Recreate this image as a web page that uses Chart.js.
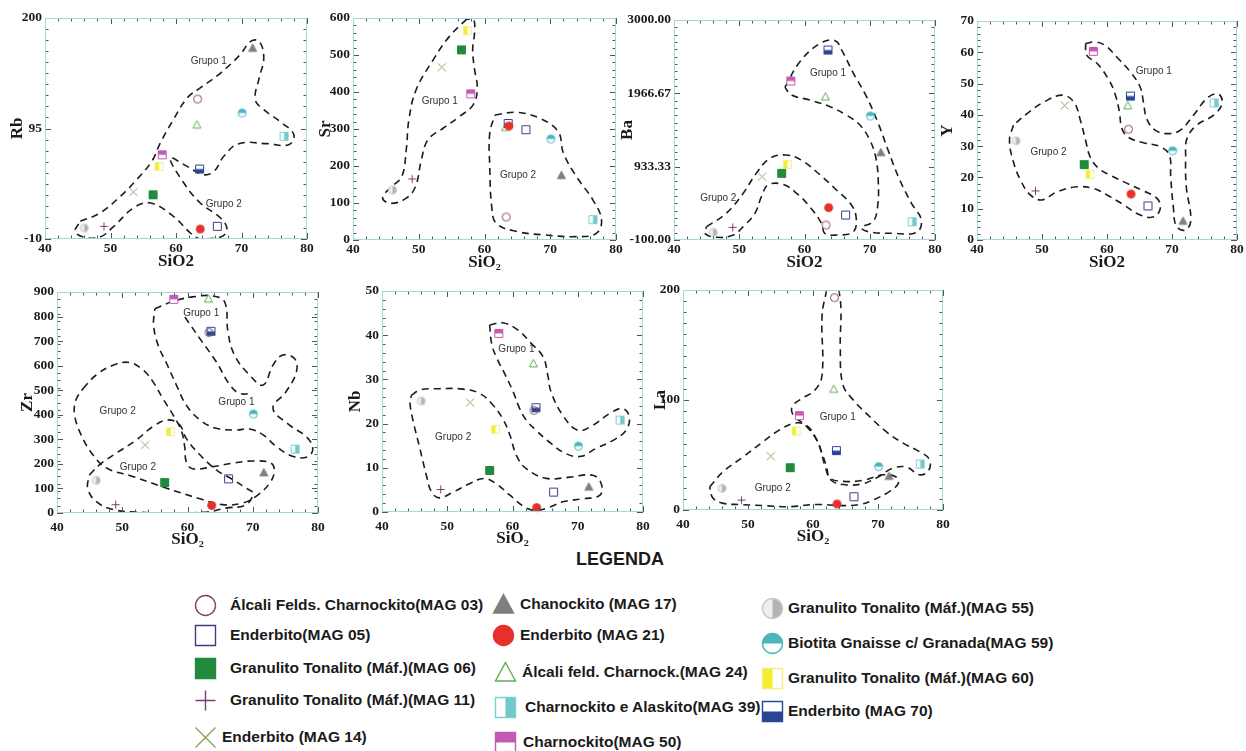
<!DOCTYPE html>
<html>
<head>
<meta charset="utf-8">
<title>Diagramas de Harker - SiO2</title>
<script src="https://cdn.jsdelivr.net/npm/chart.js@4.4.0/dist/chart.umd.min.js"></script>
<style>
    body { margin: 0; background: #fff; width: 1246px; height: 751px; position: relative; overflow: hidden;
           font-family: "Liberation Sans", Arial, sans-serif; color: #1a1a1a; }
    canvas.plot { position: absolute; }
    .leg-title { position: absolute; left: 560px; top: 549px; width: 120px; text-align: center;
                 font-weight: bold; font-size: 18px; }
    .leg-item { position: absolute; height: 22px; line-height: 22px; white-space: nowrap;
                font-weight: bold; font-size: 15.5px; }
    .leg-mark { position: absolute; }
</style>
</head>
<body>
<div class="leg-title">LEGENDA</div>
<script>
// ---- amostras ----
const samples = ['MAG 03', 'MAG 05', 'MAG 06', 'MAG 11', 'MAG 14', 'MAG 17', 'MAG 21',
                 'MAG 24', 'MAG 39', 'MAG 50', 'MAG 55', 'MAG 59', 'MAG 60', 'MAG 70'];
const legendNames = [
    'Álcali Felds. Charnockito(MAG 03)', 'Enderbito(MAG 05)', 'Granulito Tonalito (Máf.)(MAG 06)',
    'Granulito Tonalito (Máf.)(MAG 11)', 'Enderbito (MAG 14)', 'Chanockito (MAG 17)',
    'Enderbito (MAG 21)', 'Álcali feld. Charnock.(MAG 24)', 'Charnockito e Alaskito(MAG 39)',
    'Charnockito(MAG 50)', 'Granulito Tonalito (Máf.)(MAG 55)', 'Biotita Gnaisse c/ Granada(MAG 59)',
    'Granulito Tonalito (Máf.)(MAG 60)', 'Enderbito (MAG 70)'
];

// ---- valores (mesma ordem das amostras) ----
const sio2 = [63.3, 66.3, 56.5, 49.0, 53.5, 71.7, 63.7, 63.2, 76.5, 57.9, 46.0, 70.1, 57.4, 63.6];
const rb   = [123, 2, 32, 2, 34.7, 171.5, -0.5, 98.6, 87.6, 70, 0.5, 109.7, 59, 56.5];
const sr   = [62, 298, 514, 165, 467, 175, 308, 305, 55, 395, 135, 273, 566, 315];
const ba   = [111, 252, 839, 78, 792, 1135, 356, 1920, 158, 2140, 8, 1647, 966, 2577];
const yv   = [35.4, 10.9, 24.1, 15.7, 43, 6.1, 14.7, 43, 43.8, 60.3, 31.7, 28.5, 21, 46];
const zr   = [735, 139, 124, 34, 277, 165, 31, 873, 260, 870, 133, 403, 331, 740];
const nb   = [23, 4.5, 9.4, 5.1, 24.8, 5.7, 1, 33.6, 20.8, 40.4, 25.1, 14.9, 18.7, 23.6];
const la   = [193, 12.1, 38.5, 9, 49, 30.9, 5.5, 110, 41.8, 85.8, 19.7, 39.4, 71.8, 54];

// ---- ticks ----
const xTicks  = [40, 50, 60, 70, 80];
const rbTicks = [-10, 95, 200];
const srTicks = [0, 100, 200, 300, 400, 500, 600];
const baTicks = [-100, 933.33, 1966.67, 3000];
const yTicks  = [0, 10, 20, 30, 40, 50, 60, 70];
const zrTicks = [0, 100, 200, 300, 400, 500, 600, 700, 800, 900];
const nbTicks = [0, 10, 20, 30, 40, 50];
const laTicks = [0, 100, 200];

// ---- contornos dos grupos [SiO2, elemento] ----
const rbGrupos = [[45.4, 6.8], [48.4, 14.7], [51.5, 30.5], [54.0, 46.4], [56.3, 63.8], [57.6, 81.2], [59.6, 103.4],
    [61.7, 124], [63.7, 133.5], [66.8, 147.7], [69.8, 165.2], [71.4, 177.8], [72.7, 177.8], [73.4, 162],
    [72.7, 143], [72.1, 122.4], [73.4, 112.9], [76.2, 100.2], [78.0, 89.1], [77.2, 79.6], [73.9, 80.6],
    [69.6, 80.6], [67.3, 68.6], [65.8, 54.3], [64.2, 51.1], [61.7, 59], [59.1, 67], [61.2, 43.2],
    [63.7, 24.2], [66.8, 10], [67.8, -1.1], [66.8, -8.1], [63.7, -10], [62.2, -4.3], [59.6, 11.5],
    [56.1, 24.2], [53.5, 19.5], [50.5, 2], [48.4, -8.1], [45.9, -8.1], [44.6, -2.7], [45.4, 6.8]];
const srGrupo1 = [[57.3, 597], [54.7, 551], [52.2, 487], [49.6, 406], [48.5, 325], [48.1, 244], [47.4, 171],
    [45.6, 140], [44.5, 113], [45.8, 99], [48.1, 113], [49.5, 144], [50.4, 217], [51.4, 271], [53.7, 302],
    [56.2, 334], [58.3, 366], [58.9, 411], [58.5, 460], [58.2, 514], [58.5, 564], [58.3, 597], [57.3, 597]];
const srGrupo2 = [[61.6, 338], [64.9, 345], [68.4, 329], [71.2, 293], [72.0, 235], [74.0, 171], [76.5, 108],
    [77.8, 54], [77.0, 18], [74.0, 9], [68.9, 14], [64.9, 23], [61.8, 45], [61.1, 90], [60.8, 199],
    [60.8, 289], [61.6, 338]];
const baGrupo1 = [[57.0, 2051], [59.3, 2413], [62.4, 2671], [64.7, 2709], [65.7, 2577], [67.5, 2249],
    [69.5, 1920], [71.3, 1544], [72.8, 1168], [74.6, 745], [76.4, 417], [77.9, 182], [77.2, 8], [73.6, -6],
    [69.8, 17], [68.7, 78], [70.5, 158], [71.2, 370], [71.3, 745], [70.9, 1074], [70.0, 1309], [68.5, 1520],
    [66.4, 1661], [63.9, 1779], [60.8, 1873], [58.0, 1943], [57.0, 2051]];
const baGrupo2 = [[45.0, 88], [48.0, 276], [50.6, 558], [52.6, 839], [54.7, 1051], [57.2, 1098], [59.5, 1027],
    [62.4, 816], [64.9, 605], [67.0, 417], [67.9, 229], [67.5, 17], [64.9, -30], [63.1, -6], [62.6, 135],
    [60.8, 370], [58.8, 558], [56.7, 684], [54.4, 675], [53.4, 511], [52.4, 276], [50.6, 88], [49.1, -30],
    [46.5, -62], [44.7, -6], [45.0, 88]];
const yGrupo1 = [[56.7, 62.8], [58.2, 63.3], [59.7, 62.2], [61.5, 58.5], [63.6, 53.7], [65.1, 48.9],
    [65.6, 44.1], [66.1, 38.8], [67.4, 35.1], [69.5, 34.0], [71.3, 35.1], [73.3, 39.9], [75.6, 45.7],
    [77.2, 46.6], [77.7, 43.6], [76.4, 39.9], [73.8, 36.7], [72.3, 32.4], [72.1, 26.6], [72.2, 17.0],
    [72.9, 6.4], [72.1, 3.2], [70.7, 4.3], [70.2, 10.6], [69.8, 20.2], [69.6, 27.1], [68.2, 29.8],
    [65.6, 31.1], [63.3, 32.8], [62.3, 35.6], [61.9, 41.0], [61.3, 46.3], [60.3, 51.1], [58.5, 56.4],
    [56.9, 59.0], [56.7, 62.8]];
const yGrupo2 = [[45.6, 36.7], [45.0, 31.9], [45.6, 25.0], [46.7, 19.1], [48.2, 14.4], [50.0, 12.8],
    [52.3, 15.4], [55.4, 17.0], [57.9, 16.5], [60.0, 14.4], [62.6, 11.2], [65.1, 8.0], [67.2, 7.4],
    [68.2, 10.1], [67.7, 13.3], [65.6, 15.7], [63.1, 18.1], [60.5, 20.7], [58.7, 22.9], [57.4, 26.6],
    [56.7, 31.9], [55.9, 38.3], [54.9, 44.1], [53.1, 46.3], [50.3, 44.1], [47.7, 40.4], [45.6, 36.7]];
const zrGrupo1 = [[55.0, 832], [57.8, 862], [60.8, 880], [63.9, 884], [65.7, 859], [66.2, 737], [67.2, 643],
    [69.5, 562], [71.6, 521], [73.1, 602], [74.6, 643], [76.4, 629], [76.7, 575], [75.1, 494], [73.1, 426],
    [75.6, 359], [78.2, 311], [79.2, 264], [78.5, 230], [76.2, 230], [73.6, 271], [71.6, 318], [69.5, 342],
    [67.5, 338], [64.4, 345], [61.9, 379], [59.8, 440], [58.3, 521], [56.8, 609], [55.5, 683], [54.8, 765],
    [55.0, 832]];
const zrGrupo1b = [[59.6, 798], [61.9, 710], [64.4, 616], [66.5, 521], [68.0, 487], [70.0, 487]];
const zrGrupo2 = [[44.0, 507], [46.0, 562], [48.6, 602], [51.1, 613], [53.2, 582], [54.7, 535], [56.2, 467],
    [57.8, 399], [59.1, 332], [59.6, 264], [59.8, 210], [60.8, 180], [63.9, 189], [67.0, 203], [70.0, 212],
    [72.8, 203], [73.3, 169], [72.6, 122], [70.8, 74], [68.5, 41], [65.4, 34], [61.9, 58], [56.8, 101],
    [51.6, 149], [47.6, 183], [45.5, 237], [43.7, 318], [42.7, 399], [42.9, 460], [44.0, 507]];
const zrGrupo2b = [[45.0, 156], [46.5, 196], [49.1, 244], [52.2, 298], [54.7, 352], [57.0, 379], [58.8, 359],
    [59.8, 304], [61.9, 237], [64.4, 176], [67.0, 135], [69.0, 101], [70.0, 81], [69.0, 34], [65.9, 20],
    [62.9, 4], [57.8, 0], [52.7, 3], [48.6, 14], [46.0, 47], [44.7, 101], [45.0, 156]];
const nbGrupo1 = [[56.5, 42.3], [58.5, 42.8], [60.8, 41.2], [62.9, 38.1], [64.7, 35.1], [65.4, 31.0],
    [65.9, 27.2], [67.7, 21.9], [70.0, 18.5], [72.3, 19.6], [74.9, 22.3], [76.9, 23.4], [77.9, 21.5],
    [77.4, 18.5], [75.4, 16.2], [72.8, 14.4], [70.5, 12.6], [68.2, 13.2], [65.9, 15.5], [63.6, 18.5],
    [62.1, 20.8], [61.1, 23.4], [60.1, 27.2], [58.8, 31.3], [57.5, 35.1], [56.8, 38.1], [56.5, 42.3]];
const nbGrupo2 = [[44.5, 26.4], [45.8, 27.6], [48.8, 27.9], [52.4, 27.8], [55.0, 26.8], [57.0, 24.2],
    [58.5, 21.1], [59.6, 17.4], [60.6, 12.8], [62.1, 9.8], [65.2, 7.6], [68.8, 7.9], [72.3, 8.3],
    [73.6, 6.4], [73.4, 3.8], [70.8, 3.0], [67.7, 2.3], [65.7, 1.1], [63.6, 0.4], [61.9, 1.1], [59.6, 3.8],
    [57.5, 6.4], [55.7, 7.6], [53.4, 6.4], [50.9, 4.5], [48.8, 3.2], [47.6, 4.5], [46.8, 8.3], [45.8, 14.4],
    [44.8, 20.4], [44.3, 24.5], [44.5, 26.4]];
const laGrupo1 = [[62.1, 200], [61.4, 177], [61.4, 123], [60.3, 109], [58.2, 101], [56.8, 94], [57.0, 86],
    [59.0, 76], [60.8, 61], [61.8, 41], [62.8, 27], [64.9, 23], [67.7, 24], [70.0, 30], [72.3, 38],
    [74.4, 39], [76.4, 32], [77.8, 36], [77.9, 46], [76.4, 53], [73.8, 61], [71.3, 71], [68.7, 85],
    [66.2, 100], [64.6, 114], [64.2, 147], [64.3, 183], [64.0, 200]];
const laGrupo2 = [[44.1, 21], [46.2, 35], [49.2, 48], [52.3, 62], [54.9, 73], [57.2, 79], [59.0, 77],
    [60.3, 67], [61.3, 53], [62.1, 39], [62.6, 29], [64.6, 26], [67.7, 27], [70.8, 32], [72.8, 30],
    [73.1, 24], [71.8, 17], [69.2, 9], [67.2, 5], [64.6, 4], [60.5, 5], [56.4, 3], [52.3, 4], [48.7, 5],
    [46.2, 6], [44.6, 11], [44.1, 21]];

// ---- estilos dos simbolos ----
const markerStyles = [
    { shape: 'circle', stroke: '#8a4a55' },
    { shape: 'square', stroke: '#3d3c82' },
    { shape: 'square', stroke: '#218a3d', fill: '#218a3d' },
    { shape: 'plus', stroke: '#7a3f6e' },
    { shape: 'cross', stroke: '#9a9a5c' },
    { shape: 'triangle', stroke: '#7f7f7f', fill: '#7f7f7f' },
    { shape: 'circle', stroke: '#e5302b', fill: '#e5302b' },
    { shape: 'triangle', stroke: '#5fae4c' },
    { shape: 'square', stroke: '#7ccfd2', fill: '#72c8cb', half: 'right' },
    { shape: 'square', stroke: '#c45ab4', fill: '#c45ab4', half: 'top' },
    { shape: 'circle', stroke: '#c9c9c9', fill: '#b3b3b3', half: 'right', base: '#eeeeee' },
    { shape: 'circle', stroke: '#4bb6bd', fill: '#4bb6bd', half: 'top' },
    { shape: 'square', stroke: '#f3ef86', fill: '#f2ee2a', half: 'left' },
    { shape: 'square', stroke: '#2a4596', fill: '#2a4596', half: 'bottom' }
];

function shapePath(ctx, shape, cx, cy, r) {
    ctx.beginPath();
    if (shape === 'circle') {
        ctx.arc(cx, cy, r, 0, Math.PI * 2);
    } else if (shape === 'square') {
        ctx.rect(cx - r, cy - r, 2 * r, 2 * r);
    } else {
        ctx.moveTo(cx, cy - r);
        ctx.lineTo(cx + r, cy + r * 0.85);
        ctx.lineTo(cx - r, cy + r * 0.85);
        ctx.closePath();
    }
}

function drawMarker(ctx, st, cx, cy, s, lw) {
    const r = s / 2 - 0.5;
    ctx.lineWidth = lw;
    ctx.strokeStyle = st.stroke;
    if (st.shape === 'plus' || st.shape === 'cross') {
        ctx.beginPath();
        if (st.shape === 'plus') {
            ctx.moveTo(cx - r, cy); ctx.lineTo(cx + r, cy);
            ctx.moveTo(cx, cy - r); ctx.lineTo(cx, cy + r);
        } else {
            ctx.moveTo(cx - r, cy - r); ctx.lineTo(cx + r, cy + r);
            ctx.moveTo(cx + r, cy - r); ctx.lineTo(cx - r, cy + r);
        }
        ctx.stroke();
        return;
    }
    if (st.half || st.base) {
        shapePath(ctx, st.shape, cx, cy, r);
        ctx.fillStyle = st.base || '#ffffff';
        ctx.fill();
    }
    if (st.fill) {
        ctx.save();
        shapePath(ctx, st.shape, cx, cy, r);
        ctx.clip();
        ctx.fillStyle = st.fill;
        const x0 = cx - r - 1, y0 = cy - r - 1, d = 2 * r + 2;
        if (!st.half) ctx.fillRect(x0, y0, d, d);
        else if (st.half === 'left') ctx.fillRect(x0, y0, d / 2, d);
        else if (st.half === 'right') ctx.fillRect(cx, y0, d / 2, d);
        else if (st.half === 'top') ctx.fillRect(x0, y0, d, d / 2);
        else ctx.fillRect(x0, cy, d, d / 2);
        ctx.restore();
    }
    shapePath(ctx, st.shape, cx, cy, r);
    ctx.stroke();
}

function markerCanvas(st, s, lw) {
    const c = document.createElement('canvas');
    c.width = c.height = Math.ceil(s + 4);
    drawMarker(c.getContext('2d'), st, c.width / 2, c.height / 2, s, lw);
    return c;
}

const plotMarkers = markerStyles.map(st => markerCanvas(st, 9, 1));

// ---- plugins: moldura com ticks internos e rotulos dos grupos ----
const framePlugin = {
    id: 'frame',
    afterDraw(chart, args, opts) {
        const { ctx, chartArea: a, scales: { x, y } } = chart;
        ctx.save();
        ctx.strokeStyle = '#555';
        ctx.lineWidth = 1;
        ctx.beginPath();
        for (let v = x.min; v <= x.max + 1e-6; v += 2) {
            const px = Math.round(x.getPixelForValue(v)) + 0.5;
            const len = v % 10 === 0 ? 6 : 3.5;
            ctx.moveTo(px, a.bottom); ctx.lineTo(px, a.bottom - len);
            ctx.moveTo(px, a.top); ctx.lineTo(px, a.top + len);
        }
        const step = (y.max - y.min) / opts.yCount;
        for (let i = 0; i <= opts.yCount; i++) {
            const py = Math.round(y.getPixelForValue(y.min + i * step)) + 0.5;
            ctx.moveTo(a.left, py); ctx.lineTo(a.left + 3.5, py);
            ctx.moveTo(a.right, py); ctx.lineTo(a.right - 3.5, py);
        }
        y.ticks.forEach(t => {
            const py = Math.round(y.getPixelForValue(t.value)) + 0.5;
            ctx.moveTo(a.left, py); ctx.lineTo(a.left + 6, py);
            ctx.moveTo(a.right, py); ctx.lineTo(a.right - 6, py);
        });
        ctx.stroke();
        ctx.strokeStyle = '#a3d6d8';
        ctx.strokeRect(a.left + 0.5, a.top + 0.5, a.width - 1, a.height - 1);
        ctx.restore();
    }
};

const grupoPlugin = {
    id: 'grupos',
    afterDatasetsDraw(chart, args, opts) {
        const { ctx, scales: { x, y } } = chart;
        ctx.save();
        ctx.font = '10px "Liberation Sans", Arial, sans-serif';
        ctx.fillStyle = '#333';
        ctx.textAlign = 'center';
        ctx.textBaseline = 'middle';
        (opts.items || []).forEach(it => {
            ctx.fillText(it.text, x.getPixelForValue(it.x), y.getPixelForValue(it.y));
        });
        ctx.restore();
    }
};
Chart.register(framePlugin, grupoPlugin);

// ---- paineis ----
const PAD_T = 10, PAD_R = 14;
const serif = '"Liberation Serif", "Times New Roman", serif';

const panels = [
    { title: 'Rb', values: rb, ticks: rbTicks, min: -10, max: 200, area: [45, 18, 307, 239], yW: 38, xH: 33, xPad: 1.5, xTitle: 'SiO2', yCount: 20,
      outlines: [rbGrupos], labels: [{ x: 65.0, y: 158.8, text: 'Grupo 1' }, { x: 67.3, y: 22.6, text: 'Grupo 2' }] },
    { title: 'Sr', values: sr, ticks: srTicks, min: 0, max: 600, area: [353, 18, 616, 240], yW: 38, xH: 33, xPad: 1.5, xTitle: 'SiO₂', yCount: 30,
      outlines: [srGrupo1, srGrupo2], labels: [{ x: 53.2, y: 375, text: 'Grupo 1' }, { x: 65.1, y: 176, text: 'Grupo 2' }] },
    { title: 'Ba', values: ba, ticks: baTicks, min: -100, max: 3000, area: [674, 20, 935, 240], yW: 57, xH: 33, xPad: 1.5, xTitle: 'SiO2', yCount: 30, dec: 2,
      outlines: [baGrupo1, baGrupo2], labels: [{ x: 63.6, y: 2249, text: 'Grupo 1' }, { x: 46.8, y: 487, text: 'Grupo 2' }] },
    { title: 'Y', values: yv, ticks: yTicks, min: 0, max: 70, area: [977, 21, 1237, 240], yW: 40, xH: 33, xPad: 1.5, xTitle: 'SiO2', yCount: 35,
      outlines: [yGrupo1, yGrupo2], labels: [{ x: 67.2, y: 53.9, text: 'Grupo 1' }, { x: 51.0, y: 28.2, text: 'Grupo 2' }] },
    { title: 'Zr', values: zr, ticks: zrTicks, min: 0, max: 900, area: [57, 292, 318, 513], yW: 40, xH: 37, xPad: 6, xTitle: 'SiO₂', yCount: 30,
      outlines: [zrGrupo1, zrGrupo1b, zrGrupo2, zrGrupo2b],
      labels: [{ x: 62.1, y: 812, text: 'Grupo 1' }, { x: 67.5, y: 449, text: 'Grupo 1' },
               { x: 49.3, y: 413, text: 'Grupo 2' }, { x: 52.4, y: 185, text: 'Grupo 2' }] },
    { title: 'Nb', values: nb, ticks: nbTicks, min: 0, max: 50, area: [382, 291, 643, 512], yW: 37, xH: 37, xPad: 6, xTitle: 'SiO₂', yCount: 25,
      outlines: [nbGrupo1, nbGrupo2], labels: [{ x: 60.6, y: 36.8, text: 'Grupo 1' }, { x: 50.9, y: 17, text: 'Grupo 2' }] },
    { title: 'La', values: la, ticks: laTicks, min: 0, max: 200, area: [683, 290, 943, 510], yW: 33, xH: 37, xPad: 6, xTitle: 'SiO₂', yCount: 20,
      outlines: [laGrupo1, laGrupo2], labels: [{ x: 63.8, y: 84, text: 'Grupo 1' }, { x: 53.8, y: 20, text: 'Grupo 2' }] }
];

function makePanel(p) {
    const [l, t, r, b] = p.area;
    const w = (r - l) + p.yW + PAD_R;
    const h = (b - t) + PAD_T + p.xH;
    const canvas = document.createElement('canvas');
    canvas.className = 'plot';
    canvas.width = w;
    canvas.height = h;
    canvas.style.left = (l - p.yW) + 'px';
    canvas.style.top = (t - PAD_T) + 'px';
    canvas.style.width = w + 'px';
    canvas.style.height = h + 'px';
    document.body.appendChild(canvas);

    const datasets = samples.map((s, i) => ({
        label: s,
        data: [{ x: sio2[i], y: p.values[i] }],
        pointStyle: plotMarkers[i],
        pointRadius: 5,
        clip: false
    }));
    p.outlines.forEach(o => datasets.push({
        type: 'line',
        data: o.map(q => ({ x: q[0], y: q[1] })),
        borderColor: '#1c1c1c',
        borderWidth: 1.6,
        borderDash: [7, 5],
        pointRadius: 0,
        tension: 0.4,
        fill: false
    }));

    const tickFont = { family: serif, size: 13.5, weight: 'bold' };
    const titleFont = { family: serif, size: 17, weight: 'bold' };

    return new Chart(canvas, {
        type: 'scatter',
        data: { datasets },
        options: {
            responsive: false,
            animation: false,
            devicePixelRatio: 1,
            layout: { padding: { left: 0, top: PAD_T, right: PAD_R, bottom: 0 } },
            plugins: {
                legend: { display: false },
                tooltip: { enabled: false },
                frame: { yCount: p.yCount },
                grupos: { items: p.labels }
            },
            scales: {
                x: {
                    type: 'linear', min: 40, max: 80,
                    afterBuildTicks: sc => { sc.ticks = xTicks.map(v => ({ value: v })); },
                    afterFit: sc => { sc.height = p.xH; sc.paddingLeft = 0; sc.paddingRight = 0; },
                    grid: { display: false, drawTicks: false },
                    border: { display: false },
                    ticks: { font: tickFont, color: '#1a1a1a', padding: p.xPad, maxRotation: 0, autoSkip: false },
                    title: { display: true, text: p.xTitle, font: titleFont, color: '#1a1a1a', padding: 0 }
                },
                y: {
                    type: 'linear', min: p.min, max: p.max,
                    afterBuildTicks: sc => { sc.ticks = p.ticks.map(v => ({ value: v })); },
                    afterFit: sc => { sc.width = p.yW; sc.paddingTop = 0; sc.paddingBottom = 0; },
                    grid: { display: false, drawTicks: false },
                    border: { display: false },
                    ticks: {
                        font: tickFont, color: '#1a1a1a', padding: 3, autoSkip: false,
                        callback: v => p.dec ? Number(v).toFixed(p.dec) : String(v)
                    },
                    title: { display: true, text: p.title, font: titleFont, color: '#1a1a1a', padding: 0 }
                }
            }
        }
    });
}

panels.forEach(makePanel);

// ---- legenda ----
const legendPos = [
    [205, 230, 605], [205, 230, 635], [205, 230, 668], [205, 230, 700], [205, 222, 737],
    [503, 520, 604], [503, 520, 635], [505, 522, 672], [505, 525, 707], [505, 523, 742],
    [772, 788, 608], [772, 788, 643], [772, 788, 678], [772, 788, 711]
];
legendNames.forEach((name, i) => {
    const [mx, tx, cy] = legendPos[i];
    const mk = markerCanvas(markerStyles[i], 21, 1.4);
    mk.className = 'leg-mark';
    mk.style.left = (mx - mk.width / 2) + 'px';
    mk.style.top = (cy - mk.height / 2) + 'px';
    document.body.appendChild(mk);
    const span = document.createElement('div');
    span.className = 'leg-item';
    span.textContent = name;
    span.style.left = tx + 'px';
    span.style.top = (cy - 11) + 'px';
    document.body.appendChild(span);
});
</script>
</body>
</html>
